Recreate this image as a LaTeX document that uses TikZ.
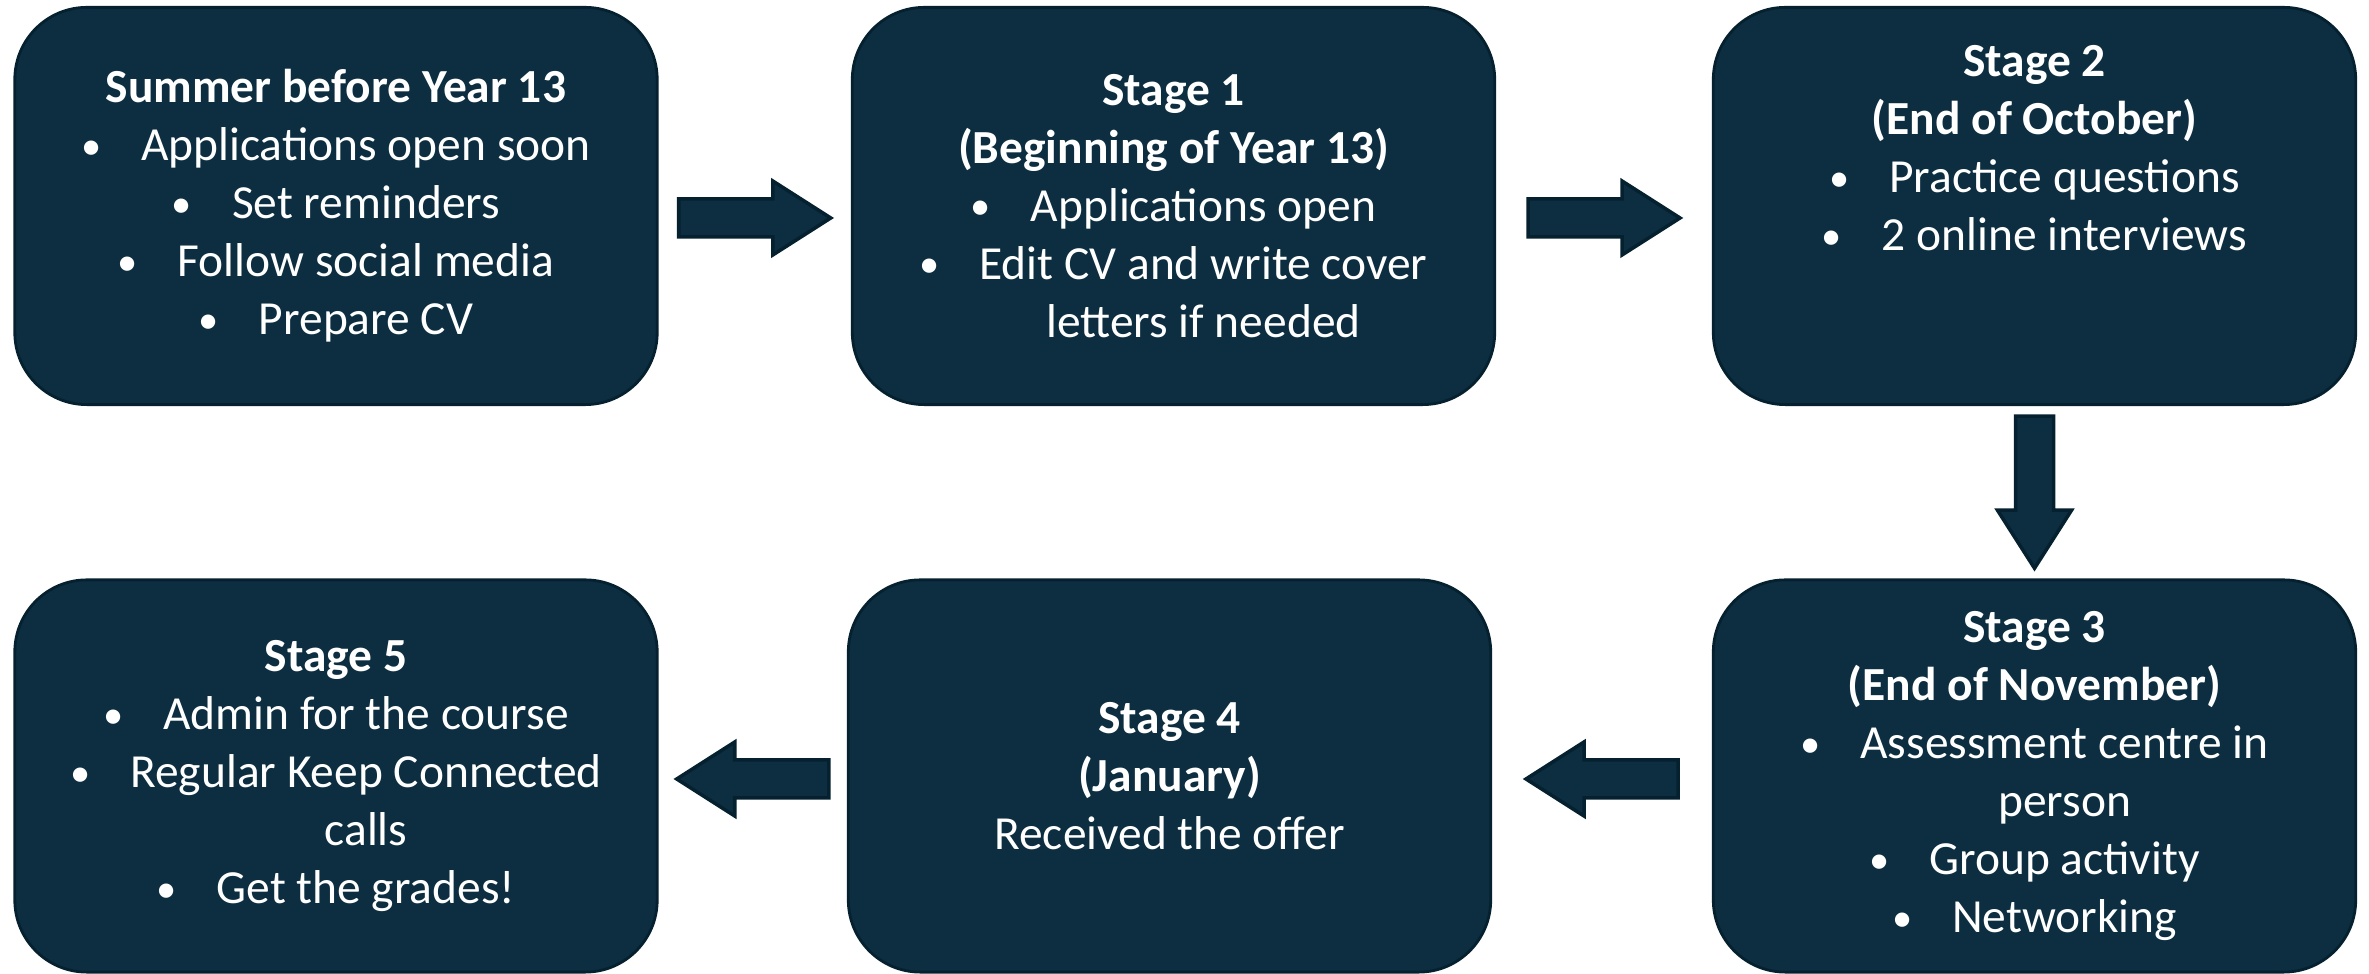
\documentclass[tikz,border=0pt]{standalone}
\usepackage{fontspec}
\setmainfont{Carlito}
\usetikzlibrary{calc}
\definecolor{stagefill}{RGB}{12,46,64}
\definecolor{stageline}{RGB}{5,33,47}
\newcommand{\bul}{\makebox[0.6cm][l]{\raisebox{0.4pt}{\fontsize{11.5}{11.5}\selectfont\textbullet}}}

\begin{document}
\begin{tikzpicture}[x=0.01cm,y=-0.01cm,
  stagebox/.style={draw=stageline,line width=0.8pt,fill=stagefill,rounded corners=0.72cm,
    minimum width=6.42cm,minimum height=3.97cm,inner sep=0pt,text=white,align=center,
    font=\fontsize{13.5}{16.5}\selectfont},
  blockarrow/.style={draw=stageline,line width=1pt,fill=stagefill,line join=miter},
  blockarr/.pic={\draw[blockarrow] (-76,-19) -- (18,-19) -- (18,-37) -- (76,0) -- (18,37) -- (18,19) -- (-76,19) -- cycle;}]
\useasboundingbox (0,0) rectangle (2369,974);
% top row
\node[stagebox] (s0) at (336,206) {\textbf{Summer before Year 13}\\ \bul Applications open soon\\ \bul Set reminders\\ \bul Follow social media\\ \bul Prepare CV};
\node[stagebox] (s1) at (1173.5,206) {\textbf{Stage 1}\\ \textbf{(Beginning of Year 13)}\\ \bul Applications open\\ \bul Edit CV and write cover\\ \hspace*{0.6cm}letters if needed};
\node[stagebox] (s2) at (2034.5,206) {\textbf{Stage 2}\\ \textbf{(End of October)}\\ \bul Practice questions\\ \bul 2 online interviews\\ ~\\ ~};
% bottom row
\node[stagebox,minimum height=3.92cm] (s3) at (2034.5,776) {\textbf{Stage 3}\\ \textbf{(End of November)}\\ \bul Assessment centre in\\ \hspace*{0.6cm}person\\ \bul Group activity\\ \bul Networking};
\node[stagebox,minimum height=3.92cm] (s4) at (1169.5,776) {\textbf{Stage 4}\\ \textbf{(January)}\\ Received the offer};
\node[stagebox,minimum height=3.92cm] (s5) at (336,776) {\textbf{Stage 5}\\ \bul Admin for the course\\ \bul Regular Keep Connected\\ \hspace*{0.6cm}calls\\ \bul Get the grades!};
% arrows between the stages
\coordinate (a01) at ($(s0.east)!0.5!(s1.west)+(0,12)$);
\coordinate (a12) at ($(s1.east)!0.5!(s2.west)+(0,12)$);
\coordinate (a23) at ($(s2.south)!0.5!(s3.north)$);
\coordinate (a34) at ($(s3.west)!0.5!(s4.east)+(0,3)$);
\coordinate (a45) at ($(s4.west)!0.5!(s5.east)+(0,3)$);
\pic at (a01) {blockarr};
\pic at (a12) {blockarr};
\pic[rotate=-90] at (a23) {blockarr};
\pic[rotate=180] at (a34) {blockarr};
\pic[rotate=180] at (a45) {blockarr};
\end{tikzpicture}
\end{document}
